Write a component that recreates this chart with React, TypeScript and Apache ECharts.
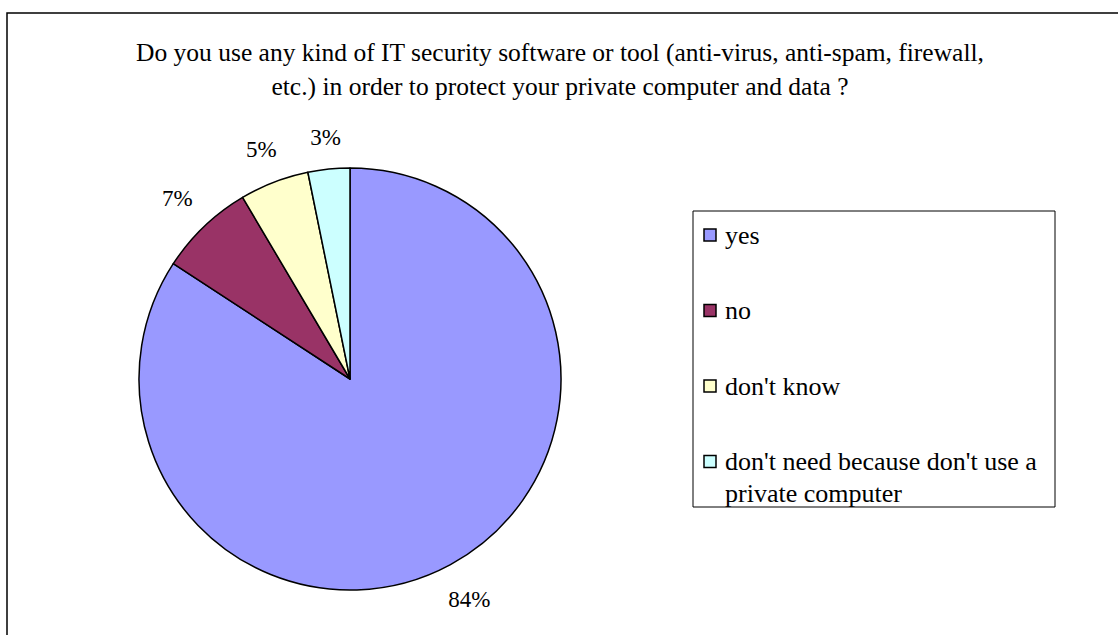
import React, { useEffect, useRef } from "react";
import * as echarts from "echarts";

const titleLines = [
  "Do you use any kind of IT security software or tool (anti-virus, anti-spam, firewall,",
  "etc.) in order to protect your private computer and data ?",
];
const categories = ["yes", "no", "don't know", "don't need because don't use a\nprivate computer"];
const shares = [84.2, 7.3, 5.3, 3.2];
const colors = ["#9999FF", "#993366", "#FFFFCC", "#CCFFFF"];

const FONT = "'Liberation Serif', 'Times New Roman', serif";

export default function App() {
  const ref = useRef<HTMLDivElement>(null);
  useEffect(() => {
    if (!ref.current) return;
    const chart = echarts.init(ref.current, undefined, { renderer: "svg" });
    const R = 211;
    const labelBase = 246;
    const labelGap = 19;
    const labelFont = 23;
    const total = shares.reduce((a, b) => a + b, 0);
    let cum = 0;
    const labelOffsets = shares.map((v) => {
      const theta = ((cum + v / 2) / total) * Math.PI * 2;
      cum += v;
      const ux = Math.sin(theta);
      const uy = -Math.cos(theta);
      const txt = Math.round((v / total) * 100) + "%";
      const hw = (labelFont * (0.5 * (txt.length - 1) + 0.833)) / 2;
      const hh = 8.5;
      const rd = R + labelGap + hw * Math.abs(ux) + hh * Math.abs(uy);
      return [ux * (rd - labelBase), uy * (rd - labelBase)];
    });
    const data = categories.map((name, i) => ({
      name,
      value: shares[i],
      itemStyle: { color: colors[i] },
    }));
    const legendTop = 211;
    const legendLeft = 693;
    const legendItems: any[] = [];
    categories.forEach((name, i) => {
      const cy = 235 + i * 75.5;
      legendItems.push({
        type: "rect",
        shape: { x: legendLeft + 11, y: cy - 6, width: 12, height: 12 },
        style: { fill: colors[i], stroke: "#000", lineWidth: 1.5 },
        silent: true,
      });
      legendItems.push({
        type: "text",
        x: legendLeft + 32,
        y: cy - 16,
        style: {
          text: name,
          fill: "#000",
          fontSize: 26,
          fontFamily: FONT,
          lineHeight: 32,
          verticalAlign: "top",
          align: "left",
        },
        silent: true,
      });
    });
    chart.setOption({
      animation: false,
      backgroundColor: "#fff",
      title: {
        text: titleLines.join("\n"),
        left: 560,
        top: 35,
        textAlign: "center",
        padding: 0,
        textStyle: {
          fontFamily: FONT,
          fontSize: 25.5,
          fontWeight: "normal",
          color: "#000",
          lineHeight: 34,
        },
      },
      graphic: [
        {
          type: "rect",
          shape: { x: 7, y: 13, width: 1300, height: 800 },
          style: { fill: "none", stroke: "#000", lineWidth: 1.5 },
          silent: true,
          z: -1,
        },
        {
          type: "rect",
          shape: { x: legendLeft, y: legendTop, width: 362, height: 296 },
          style: { fill: "none", stroke: "#000", lineWidth: 1 },
          silent: true,
        },
        ...legendItems,
      ],
      series: [
        {
          type: "pie",
          center: [350, 379],
          radius: R,
          startAngle: 90,
          clockwise: true,
          silent: true,
          data,
          itemStyle: { borderColor: "#000", borderWidth: 1.5 },
          label: { show: false },
          labelLine: { show: false },
          emphasis: { disabled: true },
        },
        {
          type: "pie",
          center: [350, 379],
          radius: [0, labelBase * 2],
          startAngle: 90,
          clockwise: true,
          silent: true,
          data: categories.map((name, i) => ({
            name,
            value: shares[i],
            label: { offset: labelOffsets[i] },
          })),
          itemStyle: { color: "rgba(0,0,0,0)", borderWidth: 0 },
          label: {
            show: true,
            position: "inside",
            formatter: (p: any) => Math.round(p.percent) + "%",
            fontFamily: FONT,
            fontSize: labelFont,
            color: "#000",
          },
          labelLine: { show: false },
          emphasis: { disabled: true },
          z: 3,
        },
      ],
    });
    return () => chart.dispose();
  }, []);
  return (
    <div
      ref={ref}
      style={{ position: "absolute", left: 0, top: 0, width: 1118, height: 635 }}
    />
  );
}
